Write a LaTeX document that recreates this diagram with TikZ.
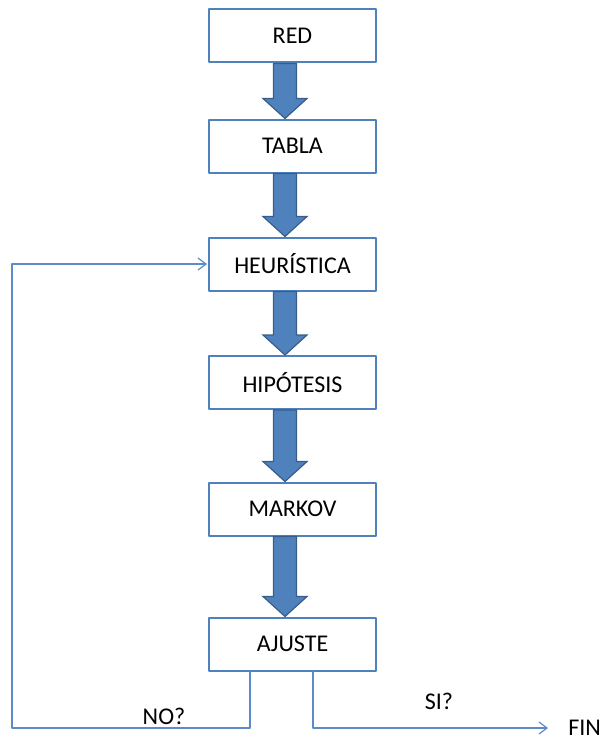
\documentclass[tikz,border=0pt]{standalone}
\usepackage{fontspec}
\setmainfont{Carlito}
\usepackage{tikz}
\usetikzlibrary{arrows.meta, calc}

\definecolor{azul}{HTML}{4F81BD}
\definecolor{azulosc}{HTML}{385D8A}
\definecolor{azulclaro}{HTML}{5B8BC9}

\tikzset{
  caja/.style={draw=azul, line width=1.5pt, fill=white, minimum width=125.25pt,
    minimum height=39.75pt, font=\fontsize{18}{21}\selectfont},
  flechota/.style={fill=azul, draw=azulosc, line width=0.9pt, line join=miter},
  linea/.style={draw=azulclaro, line width=0.9pt,
    -{Straight Barb[length=6pt,width=9pt]}},
  etiq/.style={font=\fontsize{18}{21}\selectfont, inner sep=0pt}
}

% thick block arrow between two boxes
\newcommand{\flecha}[2]{%
  \draw[flechota] ($(#1.south)+(-19,0)$) -- ($(#2.north)+(-19,-20)$)
    -- ($(#2.north)+(-29.5,-20)$) -- ($(#2.north)+(-7.5,0)$)
    -- ($(#2.north)+(14.5,-20)$) -- ($(#2.north)+(4,-20)$)
    -- ($(#1.south)+(4,0)$) -- cycle;}

\begin{document}
\begin{tikzpicture}[line cap=round,line join=round,x=0.75pt,y=-0.75pt]
\useasboundingbox (0,0) rectangle (602,742);

\node[caja] (red) at (292.5, 36) {RED};
\node[caja] (tabla) at (292.5, 146) {TABLA};
\node[caja] (heur) at (292.5, 264) {HEURÍSTICA};
\node[caja] (hip) at (292.5, 382.5) {HIPÓTESIS};
\node[caja] (markov) at (292.5, 509) {MARKOV};
\node[caja] (ajuste) at (292.5, 644) {AJUSTE};

\flecha{red}{tabla}
\flecha{tabla}{heur}
\flecha{heur}{hip}
\flecha{hip}{markov}
\flecha{markov}{ajuste}

% salidas de ajuste
\coordinate (no1) at (12, 728);
\coordinate (no2) at (12, 264);
\node[etiq, anchor=west] (fin) at (568, 728) {FIN};
\node[etiq] (si) at (439, 701) {SI?};
\node[etiq] (no) at (164, 716) {NO?};

\draw[linea] ($(ajuste.south)+(-42.5,0)$) |- (no1) -- (no2) -- ($(heur.west)+(-1,0)$);
\draw[linea] ($(ajuste.south)+(20.5,0)$) |- ($(fin.west)+(-20,0)$);

\end{tikzpicture}
\end{document}
